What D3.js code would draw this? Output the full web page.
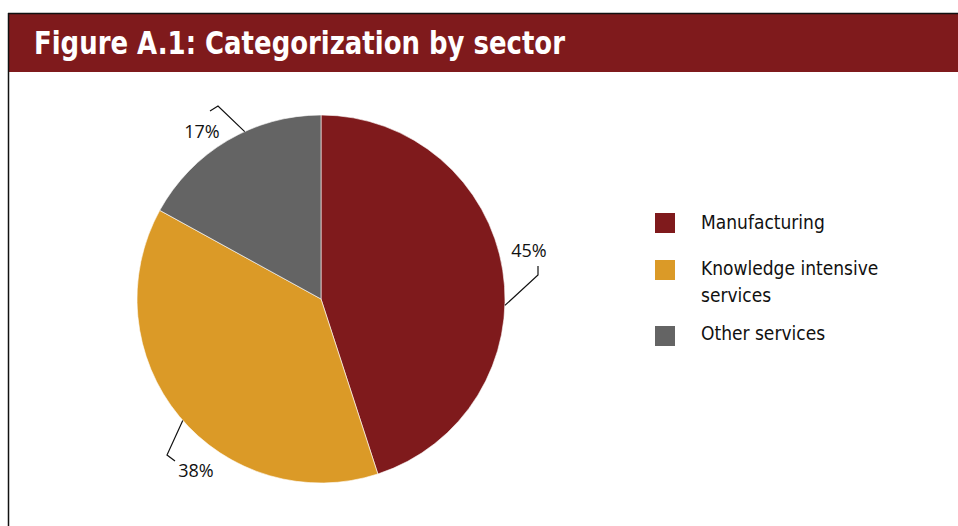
<!DOCTYPE html>
<html>
<head>
<meta charset="utf-8">
<script src="https://cdn.jsdelivr.net/npm/d3@7"></script>
<style>
  html, body { margin: 0; padding: 0; background: #fff; }
  svg { display: block; }
</style>
</head>
<body>
<svg id="chart" width="958" height="526"></svg>
<script>
// Sector shares (percent)
const categories = ["Manufacturing", "Knowledge intensive services", "Other services"];
const shares = [45, 38, 17];
const colors = ["#7f1a1c", "#db9a27", "#646464"];
const legendLines = [["Manufacturing"], ["Knowledge intensive", "services"], ["Other services"]];
const titleText = "Figure A.1: Categorization by sector";

const svg = d3.select("#chart");
const W = 958, H = 526;

// Frame and title band
svg.append("rect").attr("x", 9).attr("y", 14).attr("width", W - 9).attr("height", 58)
  .attr("fill", "#7f1a1c");
svg.append("line").attr("x1", 8).attr("x2", W).attr("y1", 13.5).attr("y2", 13.5)
  .attr("stroke", "#111").attr("stroke-width", 1.5);
svg.append("line").attr("x1", 8.5).attr("x2", 8.5).attr("y1", 13).attr("y2", H)
  .attr("stroke", "#111").attr("stroke-width", 1.5);
svg.append("text").attr("x", 34).attr("y", 54)
  .attr("font-family", "'DejaVu Sans Condensed', 'DejaVu Sans', sans-serif")
  .attr("font-weight", "bold").attr("font-size", 32).attr("fill", "#fff")
  .attr("textLength", 531).attr("lengthAdjust", "spacingAndGlyphs")
  .text(titleText);

// Pie
const cx = 321, cy = 299, r = 184;
const data = categories.map((c, i) => ({ name: c, value: shares[i], color: colors[i] }));
const pie = d3.pie().sort(null).value(d => d.value);
const arcs = pie(data);
const arc = d3.arc().innerRadius(0).outerRadius(r);

const g = svg.append("g").attr("transform", `translate(${cx},${cy})`);
g.selectAll("path").data(arcs).join("path")
  .attr("d", arc).attr("fill", d => d.data.color)
  .attr("stroke", "#fff").attr("stroke-width", 0.6);

// Leader lines: from a point on the rim, out to an elbow, then a short tick toward the label
const labelFont = "'Open Sans', 'Liberation Sans', sans-serif";
const leaders = [
  { rimDeg: 92,    elbow: [217, -24],   tick: [217, -33],   text: [208, -49] },
  { rimDeg: 228.7, elbow: [-154, 156],  tick: [-146, 162],  text: [-125, 171] },
  { rimDeg: 335.5, elbow: [-103, -193], tick: [-111, -188], text: [-119, -168] }
];
arcs.forEach((a, i) => {
  const L = leaders[i];
  const ang = L.rimDeg * Math.PI / 180;
  const p0 = [Math.sin(ang) * r, -Math.cos(ang) * r];
  g.append("path")
    .attr("d", d3.line()([p0, L.elbow, L.tick]))
    .attr("fill", "none").attr("stroke", "#111").attr("stroke-width", 1.2);
  g.append("text").attr("x", L.text[0]).attr("y", L.text[1])
    .attr("text-anchor", "middle").attr("dominant-baseline", "central")
    .attr("font-family", labelFont).attr("font-size", 18).attr("fill", "#111")
    .text(d3.format(".0f")(a.data.value) + "%");
});

// Legend
const swatchY = [223, 270, 336];
const labelY = [222, 268, 333];
const leg = svg.append("g");
data.forEach((d, i) => {
  leg.append("rect").attr("x", 655).attr("y", swatchY[i] - 10).attr("width", 20).attr("height", 20)
    .attr("fill", d.color);
  legendLines[i].forEach((line, j) => {
    leg.append("text").attr("x", 701).attr("y", labelY[i] + j * 27)
      .attr("dominant-baseline", "central")
      .attr("font-family", "'DejaVu Sans Condensed', 'DejaVu Sans', sans-serif")
      .attr("font-size", 19).attr("fill", "#111")
      .text(line);
  });
});
</script>
</body>
</html>
